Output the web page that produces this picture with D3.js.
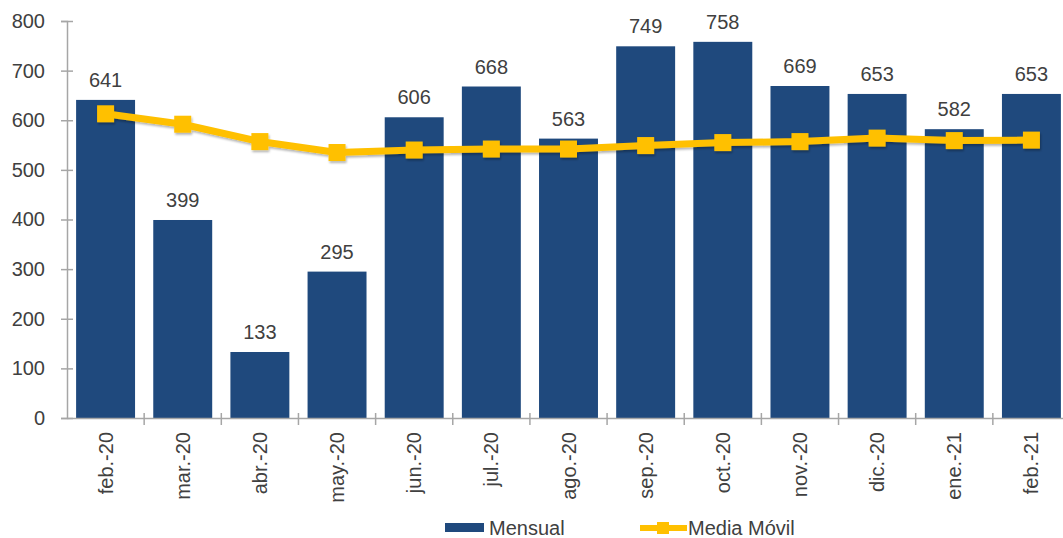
<!DOCTYPE html>
<html>
<head>
<meta charset="utf-8">
<script src="https://cdn.jsdelivr.net/npm/d3@7"></script>
<style>
  body { margin: 0; background: #fff; }
  text { font-family: "Liberation Sans", Arial, sans-serif; fill: #404040; }
</style>
</head>
<body>
<div id="chart"></div>
<script>
var months = ["feb.-20", "mar.-20", "abr.-20", "may.-20", "jun.-20", "jul.-20", "ago.-20",
              "sep.-20", "oct.-20", "nov.-20", "dic.-20", "ene.-21", "feb.-21"];
var mensual = [641, 399, 133, 295, 606, 668, 563, 749, 758, 669, 653, 582, 653];
var mediaMovil = [613, 592, 557, 535, 540, 542, 542, 549, 555, 557, 564, 559, 560];
var yTicks = [0, 100, 200, 300, 400, 500, 600, 700, 800];

var width = 1063, height = 538;
var svg = d3.select("#chart").append("svg")
    .attr("width", width)
    .attr("height", height);

var x = d3.scaleBand()
    .domain(months)
    .range([67, 1070])
    .paddingInner(0.236)
    .paddingOuter(0.118);

var y = d3.scaleLinear()
    .domain([0, 800])
    .range([418, 21]);

var defs = svg.append("defs");
var shadow = defs.append("filter").attr("id", "shadow")
    .attr("x", "-30%").attr("y", "-30%").attr("width", "160%").attr("height", "160%");
shadow.append("feDropShadow")
    .attr("dx", 1).attr("dy", 2).attr("stdDeviation", 1.2)
    .attr("flood-color", "#000").attr("flood-opacity", 0.3);

// bars
svg.append("g")
  .selectAll("rect")
  .data(mensual)
  .enter().append("rect")
    .attr("x", function(d, i) { return x(months[i]); })
    .attr("y", function(d) { return y(d); })
    .attr("width", x.bandwidth())
    .attr("height", function(d) { return y(0) - y(d); })
    .attr("fill", "#1f497d");

// bar value labels
svg.append("g")
  .selectAll("text")
  .data(mensual)
  .enter().append("text")
    .attr("x", function(d, i) { return x(months[i]) + x.bandwidth() / 2; })
    .attr("y", function(d) { return y(d) - 13; })
    .attr("text-anchor", "middle")
    .style("font-size", "20px")
    .text(function(d) { return d; });

// y axis
var yAxis = svg.append("g")
    .attr("transform", "translate(67,0)")
    .call(d3.axisLeft(y).tickValues(yTicks).tickSize(6).tickPadding(16));
yAxis.select(".domain").attr("stroke", "#a6a6a6").attr("stroke-width", 1.5);
yAxis.selectAll(".tick line").attr("x1", -6).attr("x2", 6).attr("stroke", "#a6a6a6").attr("stroke-width", 1.5);
yAxis.selectAll(".tick text")
    .style("font-size", "20px")
    .style("font-family", "'Liberation Sans', Arial, sans-serif")
    .attr("fill", "#404040");

// x axis
var xAxis = svg.append("g")
    .attr("transform", "translate(0,418)")
    .call(d3.axisBottom(x).tickSize(0).tickPadding(14));
xAxis.select(".domain").attr("stroke", "#a6a6a6").attr("stroke-width", 1.5);
xAxis.selectAll(".tick text")
    .style("font-size", "20px")
    .style("font-family", "'Liberation Sans', Arial, sans-serif")
    .attr("fill", "#404040")
    .attr("text-anchor", "end")
    .attr("transform", "rotate(-90)")
    .attr("x", -14)
    .attr("y", 0)
    .attr("dy", "0.35em");

// tick marks at the band boundaries
var gap = (x.step() - x.bandwidth()) / 2;
svg.append("g")
  .selectAll("line")
  .data(months)
  .enter().append("line")
    .attr("x1", function(d) { return x(d) + x.bandwidth() + gap; })
    .attr("x2", function(d) { return x(d) + x.bandwidth() + gap; })
    .attr("y1", 413)
    .attr("y2", 425)
    .attr("stroke", "#a6a6a6")
    .attr("stroke-width", 1.5);

// moving average line
var line = d3.line()
    .x(function(d, i) { return x(months[i]) + x.bandwidth() / 2; })
    .y(function(d) { return y(d); });

var lineG = svg.append("g").attr("filter", "url(#shadow)");
lineG.append("path")
    .datum(mediaMovil)
    .attr("d", line)
    .attr("fill", "none")
    .attr("stroke", "#ffc000")
    .attr("stroke-width", 7)
    .attr("stroke-linejoin", "round");

var m = 17;
lineG.selectAll("rect")
  .data(mediaMovil)
  .enter().append("rect")
    .attr("x", function(d, i) { return x(months[i]) + x.bandwidth() / 2 - m / 2; })
    .attr("y", function(d) { return y(d) - m / 2; })
    .attr("width", m)
    .attr("height", m)
    .attr("fill", "#ffc000");

// legend
var legend = svg.append("g");
legend.append("rect")
    .attr("x", 445).attr("y", 523)
    .attr("width", 39).attr("height", 9)
    .attr("fill", "#1f497d");
legend.append("text")
    .attr("x", 489).attr("y", 535)
    .style("font-size", "20px")
    .text("Mensual");
legend.append("line")
    .attr("x1", 640).attr("x2", 687)
    .attr("y1", 528).attr("y2", 528)
    .attr("stroke", "#ffc000").attr("stroke-width", 6);
legend.append("rect")
    .attr("x", 657).attr("y", 522)
    .attr("width", 12).attr("height", 12)
    .attr("fill", "#ffc000");
legend.append("text")
    .attr("x", 688).attr("y", 535)
    .style("font-size", "20px")
    .text("Media Móvil");
</script>
</body>
</html>
